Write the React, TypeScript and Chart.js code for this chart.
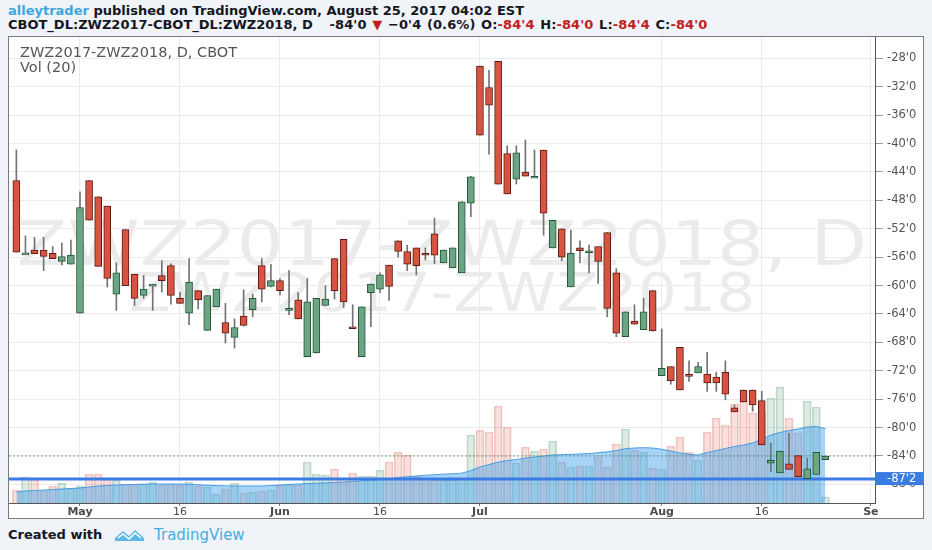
import React, { useEffect, useRef } from 'react';
import { Chart, registerables } from 'chart.js';

Chart.register(...registerables);

// ---- data ----
const opens = [-45.2, -55.4, -55.0, -55.0, -55.45, -56.6, -57.0, -63.9, -45.2, -47.5,
  -48.8, -61.2, -52.1, -58.4, -61.4, -59.8, -58.6, -57.2, -61.8, -63.9,
  -60.7, -66.3, -63.0, -65.2, -67.3, -64.3, -63.4, -57.2, -60.1, -59.3,
  -63.2, -62.0, -70.0, -69.5, -62.8, -56.2, -53.5, -65.8, -70.0, -61.0,
  -60.5, -57.1, -53.7, -55.2, -54.7, -55.45, -52.7, -56.8, -57.5, -58.2,
  -48.4, -29.1, -32.1, -28.4, -41.4, -45.0, -44.0, -44.6, -40.9, -54.7,
  -52.0, -60.2, -54.7, -55.1, -54.5, -52.55, -58.2, -67.2, -65.0, -66.2,
  -60.7, -72.7, -71.4, -68.7, -72.5, -72.3, -72.45, -72.9, -72.2, -77.2,
  -74.7, -74.7, -76.2, -85.0, -86.4, -85.1, -83.95, -87.2, -86.6, -84.5];

const highs = [-40.9, -53.0, -53.2, -53.2, -54.5, -54.0, -53.6, -46.8, -45.2, -47.5,
  -48.8, -56.8, -52.1, -58.4, -58.6, -59.8, -56.5, -56.95, -60.9, -56.2,
  -60.7, -61.4, -60.5, -62.5, -64.7, -60.6, -61.2, -56.2, -57.0, -59.0,
  -57.9, -61.0, -59.0, -61.8, -60.0, -56.2, -53.5, -62.7, -63.0, -59.8,
  -58.2, -57.1, -53.7, -54.3, -54.7, -54.7, -50.5, -55.0, -54.7, -48.2,
  -44.6, -29.1, -29.7, -28.4, -40.3, -40.3, -39.5, -40.9, -40.9, -50.8,
  -52.0, -52.2, -53.7, -54.3, -54.5, -52.55, -57.6, -63.7, -62.7, -61.8,
  -60.7, -66.1, -71.4, -68.7, -70.6, -70.8, -69.4, -72.2, -70.6, -76.8,
  -74.7, -74.7, -74.9, -82.2, -83.3, -80.8, -83.95, -84.3, -83.5, -84.0];

const lows = [-55.3, -55.5, -55.5, -57.9, -56.2, -57.1, -57.0, -63.9, -50.8, -57.3,
  -60.2, -63.5, -60.0, -62.8, -61.8, -63.5, -60.9, -62.6, -62.5, -65.5,
  -63.3, -66.3, -63.0, -68.1, -68.8, -65.7, -64.4, -62.3, -60.2, -61.3,
  -64.1, -64.7, -70.0, -69.5, -62.8, -61.9, -63.1, -65.9, -70.0, -65.8,
  -61.0, -62.1, -56.0, -57.9, -58.5, -56.4, -56.9, -56.8, -57.5, -58.2,
  -50.3, -38.8, -41.5, -45.7, -47.1, -45.7, -44.6, -44.6, -52.9, -54.7,
  -56.5, -60.2, -56.8, -58.2, -59.7, -64.4, -67.2, -67.2, -65.45, -66.2,
  -66.4, -72.7, -73.9, -74.7, -73.5, -72.3, -74.9, -74.9, -76.1, -77.8,
  -76.4, -77.7, -82.45, -86.2, -86.4, -85.9, -86.9, -87.2, -86.6, -84.5];

const closes = [-55.3, -55.4, -55.5, -55.9, -56.2, -55.9, -55.7, -49.0, -50.8, -57.3,
  -59.0, -58.2, -60.0, -61.8, -60.5, -59.8, -59.3, -61.4, -62.5, -59.5,
  -62.0, -61.4, -60.5, -66.7, -65.9, -65.6, -61.8, -60.5, -59.3, -60.7,
  -63.2, -64.7, -62.3, -61.8, -61.9, -60.7, -62.3, -65.9, -63.0, -59.8,
  -58.5, -60.1, -55.2, -57.0, -57.2, -55.7, -55.7, -55.0, -54.7, -48.2,
  -44.7, -38.8, -34.6, -45.7, -47.1, -41.3, -44.6, -44.6, -49.8, -50.8,
  -56.0, -55.45, -55.1, -55.1, -56.6, -63.2, -66.7, -63.7, -65.45, -63.7,
  -66.4, -71.65, -73.4, -74.7, -72.7, -71.4, -73.7, -73.7, -75.3, -77.8,
  -76.4, -76.8, -82.45, -84.6, -83.3, -85.9, -86.9, -85.8, -83.5, -84.0];

const volumes = [1300, 2600, 2400, 1200, 1700, 2000, 1500, 1700, 2900, 2900,
  2400, 2300, 1900, 1800, 1900, 2100, 1800, 1800, 1800, 2100,
  1700, 1600, 900, 1400, 2000, 1000, 1100, 1200, 1300, 1800,
  1800, 1800, 4100, 2900, 2800, 3400, 2500, 3000, 2700, 2700,
  3300, 4100, 5100, 4800, 2700, 2500, 2300, 2300, 2300, 2400,
  6800, 7300, 7100, 9700, 7600, 4000, 5600, 5200, 5400, 6200,
  4100, 3600, 3700, 3700, 4600, 3600, 5900, 7400, 5300, 5100,
  3500, 3400, 5700, 6600, 5100, 4300, 7100, 8500, 7800, 9900,
  10200, 9000, 9100, 10500, 11600, 8500, 7000, 10200, 9600, 600];

const volumeMA = [1100, 1200, 1250, 1300, 1350, 1400, 1450, 1500, 1600, 1700,
  1750, 1800, 1830, 1860, 1880, 1900, 1900, 1900, 1900, 1870,
  1820, 1780, 1740, 1710, 1700, 1700, 1700, 1700, 1740, 1800,
  1850, 1900, 1940, 1980, 2020, 2060, 2100, 2150, 2220, 2280,
  2340, 2400, 2550, 2630, 2700, 2770, 2830, 2880, 2930, 2980,
  3250, 3600, 3850, 4100, 4250, 4350, 4500, 4600, 4700, 4800,
  4830, 4860, 4900, 4950, 5030, 5120, 5250, 5430, 5500, 5530,
  5500, 5370, 5200, 5000, 4870, 4800, 5050, 5250, 5450, 5650,
  5800, 6000, 6350, 6800, 7050, 7250, 7400, 7600, 7650, 7450];

const xTickIndex = [7, 18, 29, 40, 51, 71, 82, 94];
const xTickLabels = ['May', '16', 'Jun', '16', 'Jul', 'Aug', '16', 'Se'];
const monthTickIndex = [7, 29, 51, 71, 94];
const yTickValues = [-88, -84, -80, -76, -72, -68, -64, -60, -56, -52, -48, -44, -40, -36, -32, -28];
const lastPrice = -84.0;
const levelPrice = -87.25;

// ---- view range ----
const X_MIN = -0.81;
const X_MAX = 94.46;
const Y_MIN = -90.62;
const Y_MAX = -24.99;
const VOL_MAX = 46600;

const FONT = '"DejaVu Sans", Verdana, sans-serif';
const UP = '#6ba583';
const UP_BORDER = '#225437';
const DOWN = '#d75442';
const DOWN_BORDER = '#5b1a13';
const WICK = '#737375';

function fmt(v: number): string {
  const neg = v < 0;
  const a = Math.abs(v);
  let w = Math.floor(a + 1e-9);
  let e = Math.round((a - w) * 8);
  if (e === 8) { w += 1; e = 0; }
  return (neg ? '-' : '') + w + "'" + e;
}

const levelLabelPlugin = {
  id: 'levelLabel',
  afterDraw(chart: any) {
    const { ctx, chartArea, scales } = chart;
    const py = scales.y.getPixelForValue(levelPrice);
    ctx.save();
    ctx.fillStyle = '#3b7be4';
    ctx.fillRect(chartArea.right, py - 7, chart.width - chartArea.right, 13);
    ctx.fillStyle = '#ffffff';
    ctx.font = '11.5px ' + FONT;
    ctx.textBaseline = 'middle';
    ctx.textAlign = 'left';
    ctx.fillText(fmt(levelPrice), chartArea.right + 12, py);
    ctx.restore();
  },
};

function CandleChart() {
  const ref = useRef<HTMLCanvasElement | null>(null);
  useEffect(() => {
    if (!ref.current) return;
    const isUp = closes.map((c, i) => c >= opens[i]);
    const chart = new Chart(ref.current, {
      type: 'bar',
      data: {
        datasets: [
          {
            type: 'bar',
            label: 'body',
            data: opens.map((o, i) => ({ x: i, y: [o, closes[i]] })) as any,
            backgroundColor: isUp.map((u) => (u ? UP : DOWN)),
            borderColor: isUp.map((u) => (u ? UP_BORDER : DOWN_BORDER)),
            borderWidth: 1,
            borderSkipped: false,
            barThickness: 7,
            minBarLength: 2,
            grouped: false,
            yAxisID: 'y',
            order: 1,
          } as any,
          {
            type: 'bar',
            label: 'wick',
            data: lows.map((l, i) => ({ x: i, y: [l, highs[i]] })) as any,
            backgroundColor: WICK,
            borderWidth: 0,
            barThickness: 1,
            grouped: false,
            yAxisID: 'y',
            order: 2,
          } as any,
          {
            type: 'line',
            label: 'level',
            data: [{ x: X_MIN, y: levelPrice }, { x: X_MAX, y: levelPrice }],
            borderColor: '#3b7be4',
            borderWidth: 3,
            pointRadius: 0,
            yAxisID: 'y',
            order: 3,
          } as any,
          {
            type: 'line',
            label: 'last',
            data: [{ x: X_MIN, y: lastPrice }, { x: X_MAX, y: lastPrice }],
            borderColor: 'rgba(95,140,110,0.85)',
            borderDash: [2, 2],
            borderWidth: 1,
            pointRadius: 0,
            yAxisID: 'y',
            order: 3,
          } as any,
          {
            type: 'line',
            label: 'Vol MA',
            data: volumeMA.map((v, i) => ({ x: i, y: v })),
            yAxisID: 'yv',
            fill: 'origin',
            backgroundColor: 'rgba(60,160,235,0.45)',
            borderColor: 'rgba(55,150,225,0.9)',
            borderWidth: 1,
            pointRadius: 0,
            tension: 0,
            order: 4,
          } as any,
          {
            type: 'bar',
            label: 'Vol',
            data: volumes.map((v, i) => ({ x: i, y: v })),
            yAxisID: 'yv',
            backgroundColor: isUp.map((u) => (u ? 'rgba(107,165,131,0.22)' : 'rgba(215,84,66,0.18)')),
            borderColor: isUp.map((u) => (u ? 'rgba(107,165,131,0.4)' : 'rgba(215,84,66,0.3)')),
            borderWidth: 1,
            borderSkipped: 'bottom',
            barThickness: 8,
            grouped: false,
            order: 5,
          } as any,
        ],
      },
      options: {
        animation: false,
        responsive: false,
        events: [],
        layout: { padding: 0 },
        plugins: { legend: { display: false }, tooltip: { enabled: false } },
        scales: {
          x: {
            type: 'linear',
            min: X_MIN,
            max: X_MAX,
            bounds: 'data',
            offset: false,
            afterBuildTicks: (s: any) => {
              s.ticks = xTickIndex.map((v) => ({ value: v }));
            },
            afterFit: (s: any) => {
              s.height = 15;
              s.paddingLeft = 0;
              s.paddingRight = 0;
            },
            ticks: {
              autoSkip: false,
              maxRotation: 0,
              padding: 0,
              color: '#4a4a4a',
              callback: (_v: any, idx: number) => xTickLabels[idx],
              font: (c: any) => ({
                family: FONT,
                size: 11,
                weight: c.tick && monthTickIndex.includes(c.tick.value) ? 'bold' : 'normal',
              }),
            },
            grid: { color: '#ebebeb', tickLength: 3, tickColor: '#777', offset: false },
            border: { color: '#555' },
          } as any,
          y: {
            type: 'linear',
            position: 'right',
            min: Y_MIN,
            max: Y_MAX,
            bounds: 'data',
            afterBuildTicks: (s: any) => {
              s.ticks = yTickValues.map((v) => ({ value: v }));
            },
            afterFit: (s: any) => {
              s.width = 48;
              s.paddingTop = 0;
              s.paddingBottom = 0;
            },
            ticks: {
              autoSkip: false,
              padding: 4,
              color: '#555',
              font: { family: FONT, size: 11.5 },
              callback: (v: any) => fmt(Number(v)),
            },
            grid: { color: '#ebebeb', tickLength: 8, tickColor: '#999' },
            border: { color: '#555' },
          } as any,
          yv: { type: 'linear', display: false, min: 0, max: VOL_MAX } as any,
        },
      },
      plugins: [levelLabelPlugin],
    });
    return () => chart.destroy();
  }, []);
  return <canvas ref={ref} width={914} height={481} style={{ position: 'absolute', left: 0, top: 0, width: 914, height: 481 }} />;
}

const red = { color: '#c0201e' };

export default function App() {
  return (
    <div style={{ position: 'absolute', left: 0, top: 0, width: 932, height: 550, background: '#f0f3f7', fontFamily: FONT, overflow: 'hidden' }}>
      <div style={{ position: 'absolute', left: 8, top: 3, fontSize: 13, fontWeight: 'bold', lineHeight: '15px', whiteSpace: 'pre', color: '#131722' }}>
        <span style={{ color: '#3ea6df' }}>alleytrader</span> published on TradingView.com, August 25, 2017 04:02 EST
      </div>
      <div style={{ position: 'absolute', left: 8, top: 17, fontSize: 13, fontWeight: 'bold', lineHeight: '15px', whiteSpace: 'pre', color: '#131722' }}>
        CBOT_DL:ZWZ2017-CBOT_DL:ZWZ2018, D<span style={{ letterSpacing: '0.1px', wordSpacing: '1px' }}>   -84'0 <span style={red}>▼</span> −0'4 (0.6%) O:<span style={red}>-84'4</span> H:<span style={red}>-84'0</span> L:<span style={red}>-84'4</span> C:<span style={red}>-84'0</span></span>
      </div>
      <div style={{ position: 'absolute', left: 8, top: 36, width: 916, height: 483, border: '1px solid #7a7a7a', boxSizing: 'border-box', background: '#ffffff', overflow: 'hidden' }}>
        <div style={{ position: 'absolute', left: 0, width: 866, top: 213 - 37, textAlign: 'center', fontSize: 62.8, lineHeight: 1, whiteSpace: 'pre', color: 'rgba(0,0,0,0.08)', transform: 'scaleX(1.17)', transformOrigin: '433px 0' }}>
          ZWZ2017-ZWZ2018, D
        </div>
        <div style={{ position: 'absolute', left: 0, width: 866, top: 267 - 37, textAlign: 'center', fontSize: 52.7, lineHeight: 1, whiteSpace: 'pre', color: 'rgba(0,0,0,0.08)', transform: 'scaleX(1.17)', transformOrigin: '433px 0' }}>
          ZWZ2017-ZWZ2018
        </div>
        <CandleChart />
        <div style={{ position: 'absolute', left: 11, top: 7, fontSize: 14.5, lineHeight: '16px', color: '#555', whiteSpace: 'pre' }}>ZWZ2017-ZWZ2018, D, CBOT</div>
        <div style={{ position: 'absolute', left: 11, top: 22, fontSize: 14.5, lineHeight: '16px', color: '#555', whiteSpace: 'pre' }}>Vol (20)</div>
      </div>
      <div style={{ position: 'absolute', left: 8, top: 527, fontSize: 13, fontWeight: 'bold', lineHeight: '16px', color: '#131722', whiteSpace: 'pre' }}>Created with</div>
      <svg style={{ position: 'absolute', left: 115, top: 528 }} width={30} height={14} viewBox="0 0 30 14">
        <path d="M0 10 L8 3 L14 8 L20 2 L29 10 L29 13 L0 13 Z" fill="#5db8e8" />
        <path d="M3 10 L8 6 L14 11 L20 5 L26 10" stroke="#ffffff" strokeWidth={1.5} fill="none" />
      </svg>
      <div style={{ position: 'absolute', left: 154, top: 526, fontSize: 15, lineHeight: '18px', color: '#45aee3', whiteSpace: 'pre' }}>TradingView</div>
    </div>
  );
}
